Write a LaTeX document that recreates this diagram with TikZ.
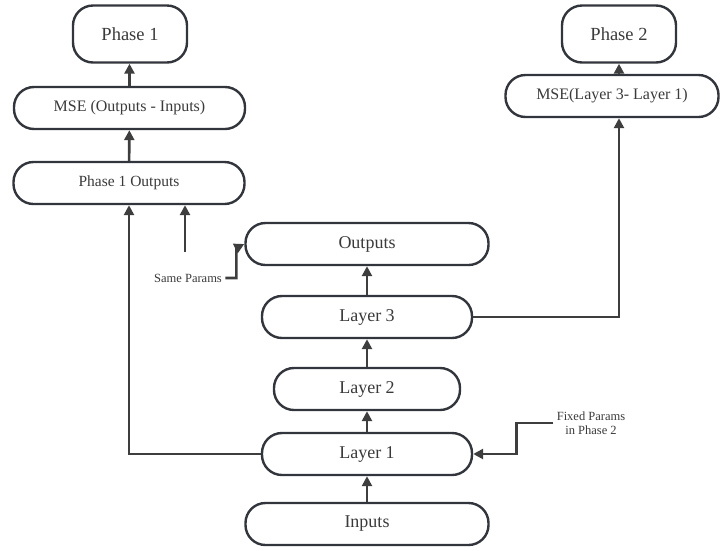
\documentclass[tikz,border=0pt]{standalone}
\usepackage{fontspec}
\setmainfont{Liberation Serif}
\usetikzlibrary{arrows.meta, positioning, calc}
\definecolor{linegray}{RGB}{62, 62, 62}
\definecolor{boxgray}{RGB}{50, 54, 60}
\definecolor{textgray}{RGB}{58, 58, 58}

\begin{document}
\begin{tikzpicture}[
        x=1pt, y=-1pt,
        box/.style={rectangle, draw=boxgray, line width=2.4pt, rounded corners=20pt, minimum width=210pt, minimum height=42pt, align=center, inner sep=0pt, text=textgray},
        arrow/.style={-{Triangle[length=10pt, width=10pt]}, line width=2.6pt, draw=linegray},
        note/.style={align=center, font=\fontsize{12.5}{14}\selectfont, text=textgray}
    ]
        \useasboundingbox (0,0) rectangle (723,550);

        % Phase 1 branch
        \node[box, minimum width=114pt, minimum height=57pt, font=\fontsize{18.5}{22}\selectfont] (phaseA) at (130,34) {Phase 1};
        \node[box, minimum width=231pt, font=\fontsize{16}{19}\selectfont] (mseA) at (129.5,108) {MSE (Outputs - Inputs)};
        \node[box, minimum width=231pt, font=\fontsize{15.5}{18}\selectfont] (outA) at (129,183) {Phase 1 Outputs};

        % Phase 2 branch
        \node[box, minimum width=114pt, minimum height=57pt, font=\fontsize{18.5}{22}\selectfont] (phaseB) at (619,34) {Phase 2};
        \node[box, minimum width=213pt, font=\fontsize{16}{19}\selectfont] (mseB) at (612,96) {MSE(Layer 3- Layer 1)};

        % Network
        \node[box, minimum width=243pt, font=\fontsize{18}{21}\selectfont] (outputs) at (367,244) {Outputs};
        \node[box, font=\fontsize{18}{21}\selectfont] (layer3) at (367,317) {Layer 3};
        \node[box, minimum width=186pt, font=\fontsize{18}{21}\selectfont] (layer2) at (367,389) {Layer 2};
        \node[box, font=\fontsize{18}{21}\selectfont] (layer1) at (367,454) {Layer 1};
        \node[box, minimum width=243pt, font=\fontsize{18}{21}\selectfont] (inputs) at (367,524) {Inputs};

        % Notes
        \node[note] (same) at (188,278) {Same Params};
        \node[note] (fixed) at (591,423) {Fixed Params\\in Phase 2};
        \coordinate (sp) at (185,252);

        % Arrows
        \draw[arrow] (inputs) -- (layer1);
        \draw[arrow] (layer1) -- (layer2);
        \draw[arrow] (layer2) -- (layer3);
        \draw[arrow] (layer3) -- (outputs);
        \draw[arrow] (layer1.west) -| (outA.south);
        \draw[arrow] (outA) -- (mseA);
        \draw[arrow] (mseA) -- (mseA.north |- phaseA.south);
        \draw[arrow] (layer3.east) -| (mseB.south -| phaseB);
        \draw[arrow] (mseB.north -| phaseB) -- (phaseB);
        \draw[arrow] (sp) -- (sp |- outA.south);
        \draw[arrow] (same.east) -| ($(outputs.west)+(-8,4)$) -- (outputs.west);
        \draw[arrow] (fixed.west) -- ++(-37,0) |- (layer1.east);
    \end{tikzpicture}
\end{document}
